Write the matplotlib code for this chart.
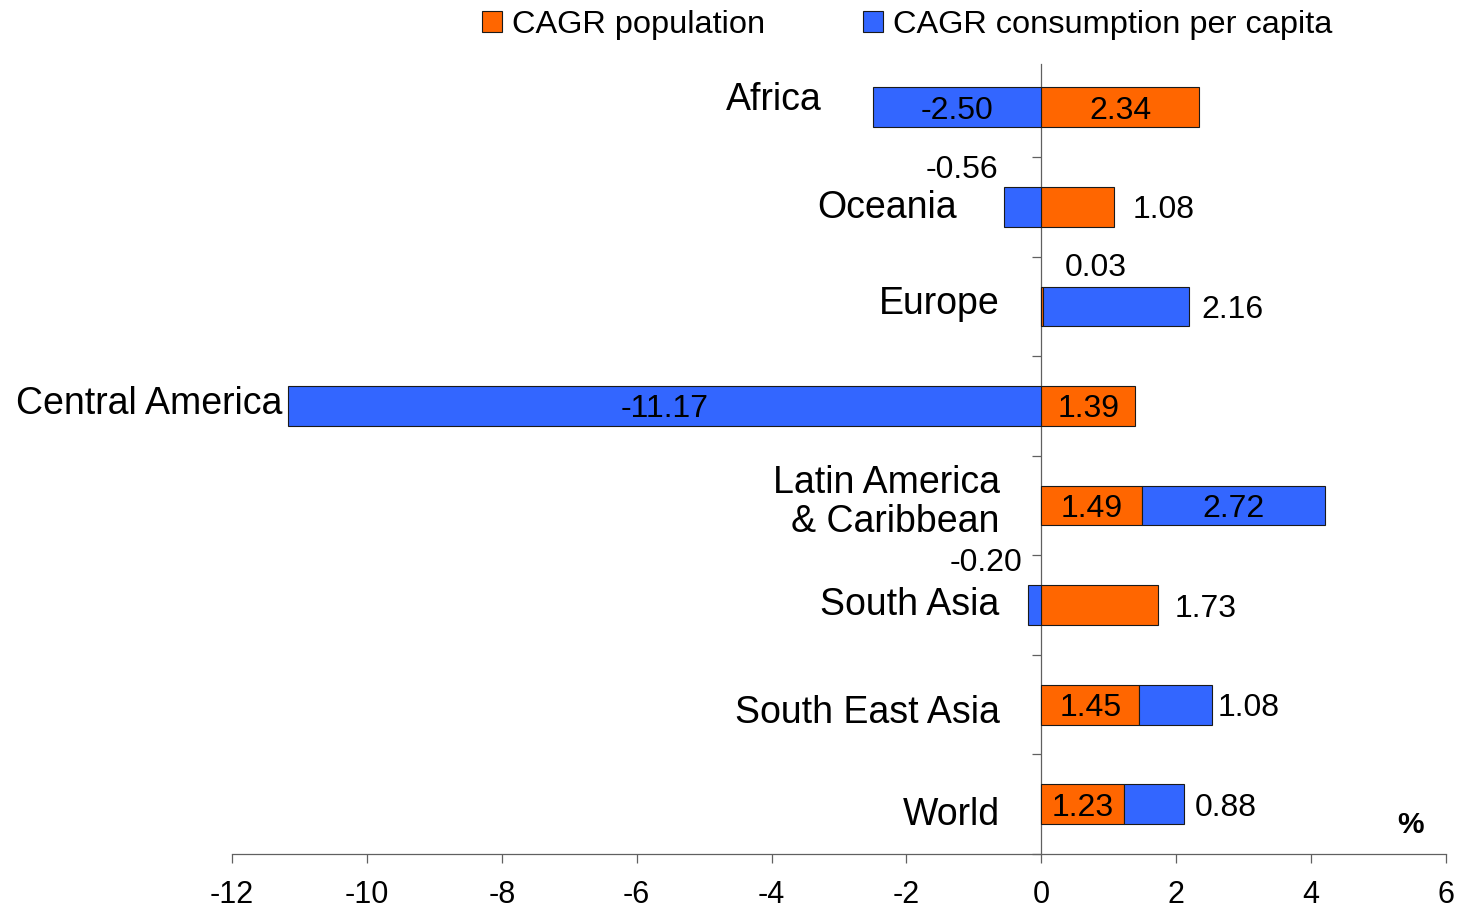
import matplotlib
matplotlib.use("Agg")
import matplotlib.pyplot as plt
from matplotlib.patches import Patch
import numpy as np

# Compound annual growth rates (%) by region
regions = ["Africa", "Oceania", "Europe", "Central America",
           "Latin America\n& Caribbean", "South Asia", "South East Asia", "World"]
cagr_population = [2.34, 1.08, 0.03, 1.39, 1.49, 1.73, 1.45, 1.23]
cagr_consumption = [-2.50, -0.56, 2.16, -11.17, 2.72, -0.20, 1.08, 0.88]
xtick_values = [-12, -10, -8, -6, -4, -2, 0, 2, 4, 6]

# Where each value label goes: inside the segment, right of it, or above it
pop_label_mode = ["in", "right", "above", "in", "in", "right", "in", "in"]
cons_label_mode = ["in", "above", "right", "in", "in", "above", "right", "right"]

# Gap (px) between a bar end and a label placed to its right
pop_right_gap = [0, 18, 0, 0, 0, 17, 0, 0]
cons_right_gap = [0, 0, 12, 0, 0, 0, 6, 11]
# Lift (px) of labels placed above a bar
above_lift = [0, 29, 30, 0, 0, 34, 0, 0]

# Category label anchor (x in data units, baseline shift in px below bar centre)
cat_label_x = [-3.26, -1.25, -0.62, -11.25, -0.62, -0.62, -0.62, -0.62]
cat_label_dy = [2.5, 11, 8, 8, 26, 10, 18, 21]

ORANGE = "#FF6600"
BLUE = "#3366FF"
AXIS_GREY = "#606060"
PX = 0.72  # points per pixel at 100 dpi

plt.rcParams["font.family"] = ["Liberation Sans", "DejaVu Sans"]

fig = plt.figure(figsize=(14.57, 9.09), dpi=100)
ax = fig.add_axes([232 / 1457, 1 - 854 / 909, 1214 / 1457, (854 - 57.6) / 909])

y = np.arange(len(regions))
pop = np.array(cagr_population)
cons = np.array(cagr_consumption)
cons_left = np.where(cons > 0, pop, 0.0)

bar_h = 0.4
ax.barh(y, pop, height=bar_h, left=0, color=ORANGE, edgecolor="#1a1a1a",
        linewidth=0.8, zorder=3)
ax.barh(y, cons, height=bar_h, left=cons_left, color=BLUE, edgecolor="#1a1a1a",
        linewidth=0.8, zorder=3)

ax.set_xlim(-12, 6)
ax.set_ylim(len(regions) - 0.5, -0.5)

VAL_FS = 23
CAP_HALF = 0.358 * VAL_FS  # half cap height in points


def value_label(value, start, yi, mode, gap, lift):
    end = start + value
    txt = f"{value:.2f}"
    if mode == "in":
        ax.annotate(txt, xy=((start + end) / 2, yi), xytext=(0, -CAP_HALF),
                    textcoords="offset points", ha="center", va="baseline",
                    fontsize=VAL_FS, zorder=5)
    elif mode == "right":
        ax.annotate(txt, xy=(end, yi), xytext=(gap * PX, -CAP_HALF),
                    textcoords="offset points", ha="left", va="baseline",
                    fontsize=VAL_FS, zorder=5)
    else:  # above the bar
        if value < 0:
            ax.annotate(txt, xy=(end, yi), xytext=(-5 * PX, lift * PX),
                        textcoords="offset points", ha="right", va="baseline",
                        fontsize=VAL_FS, zorder=5)
        else:
            ax.annotate(txt, xy=(end, yi), xytext=(21 * PX, lift * PX),
                        textcoords="offset points", ha="left", va="baseline",
                        fontsize=VAL_FS, zorder=5)


for i in range(len(regions)):
    value_label(pop[i], 0.0, i, pop_label_mode[i], pop_right_gap[i], above_lift[i])
    value_label(cons[i], cons_left[i], i, cons_label_mode[i], cons_right_gap[i],
                above_lift[i])
    ax.annotate(regions[i], xy=(cat_label_x[i], i),
                xytext=(0, -cat_label_dy[i] * PX), textcoords="offset points",
                ha="right", va="baseline", multialignment="right",
                linespacing=1.1, fontsize=27, annotation_clip=False)

# Axes styling: bottom axis plus a vertical axis at zero
for side in ("top", "right"):
    ax.spines[side].set_visible(False)
ax.spines["left"].set_position(("data", 0))
ax.spines["left"].set_bounds(-0.436, len(regions) - 0.5)
for side in ("left", "bottom"):
    ax.spines[side].set_color(AXIS_GREY)
    ax.spines[side].set_linewidth(0.9)

ax.set_yticks(list(y + 0.5))
ax.set_yticklabels([])
ax.tick_params(axis="y", direction="out", length=9 * PX, width=0.9,
               color=AXIS_GREY)

ax.set_xticks(xtick_values)
ax.set_xticklabels([str(v) for v in xtick_values], fontsize=22)
ax.tick_params(axis="x", direction="out", length=9 * PX, width=0.9,
               color=AXIS_GREY, pad=12)

fig.text(1410 / 1457, 1 - 833 / 909, "%", ha="center", va="baseline",
         fontsize=21.5, fontweight="bold")

handles = [Patch(facecolor=ORANGE, edgecolor="#1a1a1a", linewidth=0.8),
           Patch(facecolor=BLUE, edgecolor="#1a1a1a", linewidth=0.8)]
fig.legend(handles, ["CAGR population", "CAGR consumption per capita"],
           loc="center", bbox_to_anchor=(907 / 1457, 1 - 25 / 909), ncol=2,
           frameon=False, fontsize=23.4, handlelength=0.62, handleheight=0.62,
           handletextpad=0.3, columnspacing=3.0, borderpad=0, borderaxespad=0)

fig.savefig("out.png", dpi=100)
